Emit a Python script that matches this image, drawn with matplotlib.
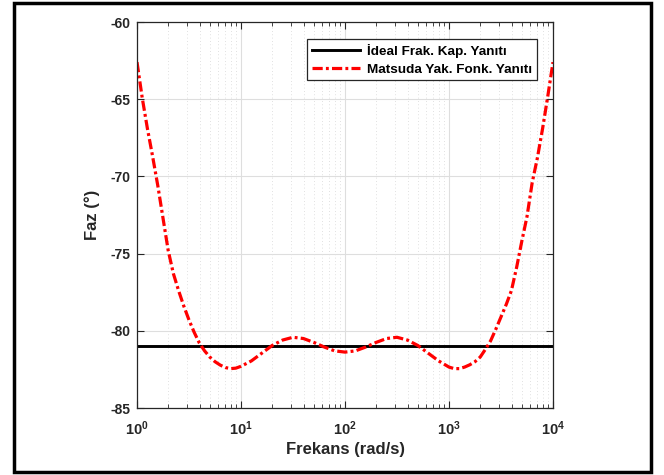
import matplotlib
matplotlib.use("Agg")
import matplotlib.pyplot as plt
import numpy as np
from matplotlib.ticker import FixedLocator, FuncFormatter, LogLocator, NullFormatter
from matplotlib.patches import Rectangle

plt.rcParams['font.family'] = ['Liberation Sans', 'DejaVu Sans']
plt.rcParams['font.weight'] = 'bold'
plt.rcParams['axes.unicode_minus'] = False
plt.rcParams['mathtext.fontset'] = 'custom'
plt.rcParams['mathtext.rm'] = 'Liberation Sans:bold'
plt.rcParams['mathtext.bf'] = 'Liberation Sans:bold'
plt.rcParams['mathtext.it'] = 'Liberation Sans:bold'

log_w = [0.00, 0.05, 0.10, 0.15, 0.20, 0.25, 0.30, 0.35, 0.40, 0.45,
         0.50, 0.55, 0.60, 0.65, 0.70, 0.75, 0.80, 0.85, 0.90, 0.95,
         1.00, 1.10, 1.20, 1.30, 1.40, 1.50, 1.60, 1.70, 1.80, 1.90,
         2.00, 2.10, 2.20, 2.30, 2.40, 2.50, 2.60, 2.70, 2.80, 2.90,
         3.00, 3.05, 3.10, 3.15, 3.20, 3.25, 3.30, 3.35, 3.40, 3.45,
         3.50, 3.55, 3.60, 3.65, 3.70, 3.75, 3.80, 3.85, 3.90, 3.95, 4.00]
matsuda_phase = [-62.6, -64.9, -66.9, -68.7, -70.6, -72.7, -74.8, -76.3, -77.4, -78.4,
                 -79.3, -80.1, -80.8, -81.3, -81.7, -82.0, -82.22, -82.38, -82.45, -82.42,
                 -82.3, -81.95, -81.45, -80.95, -80.6, -80.42, -80.5, -80.75, -81.05, -81.3,
                 -81.38, -81.3, -81.05, -80.75, -80.5, -80.42, -80.6, -80.95, -81.45, -81.95,
                 -82.35, -82.45, -82.45, -82.35, -82.2, -82.0, -81.7, -81.2, -80.65, -79.9,
                 -79.1, -78.3, -77.4, -75.9, -74.2, -72.6, -70.4, -68.8, -66.9, -64.8, -62.6]
ideal_phase = -81.0

w = 10.0 ** np.array(log_w)

fig = plt.figure(figsize=(6.64, 4.75), dpi=100)
ax = fig.add_axes([137/664, 1 - 408/475, (553-137)/664, (408-22)/475])

ax.semilogx(w, np.full(len(w), ideal_phase), color='black', lw=2.1,
            label='İdeal Frak. Kap. Yanıtı')
ax.semilogx(w, matsuda_phase, color='red', lw=2.3, ls='-.',
            dashes=(3.2, 1.0, 0.9, 1.0), label='Matsuda Yak. Fonk. Yanıtı')

ax.set_xlim(1, 1e4)
ax.set_ylim(-85, -60)
ax.set_yticks(np.arange(-85, -59, 5))
ax.xaxis.set_major_locator(FixedLocator([1, 10, 100, 1000, 10000]))
ax.xaxis.set_minor_locator(LogLocator(base=10, subs=np.arange(2, 10)))
ax.xaxis.set_minor_formatter(NullFormatter())
ax.xaxis.set_major_formatter(FuncFormatter(lambda v, p: r'$10^{%d}$' % round(np.log10(v))))

ax.grid(True, which='major', color='#dedede', lw=0.8, ls='-')
ax.grid(True, which='minor', axis='x', color='#d6d6d6', lw=0.6, ls=(0, (1, 3)))
ax.set_axisbelow(True)

ax.tick_params(which='both', direction='in', top=True, right=True, colors='#262626',
               labelsize=10)
ax.tick_params(axis='x', which='major', labelsize=10.5)
ax.tick_params(which='major', length=5)
ax.tick_params(which='minor', length=3)
ax.tick_params(axis='x', which='major', pad=8)
ax.tick_params(axis='y', which='major', pad=5)
for sp in ax.spines.values():
    sp.set_color('#262626')
    sp.set_linewidth(0.9)

ax.set_xlabel('Frekans (rad/s)', fontsize=12, fontweight='bold', color='#262626', labelpad=3)
ax.set_ylabel('Faz (°)', fontsize=12, fontweight='bold', color='#262626', labelpad=7)

leg = ax.legend(loc='upper right', bbox_to_anchor=((537-137)/416, (408-39)/386),
                borderaxespad=0, fontsize=9.7, fancybox=False, framealpha=1,
                edgecolor='#262626', handlelength=3.6, borderpad=0.35,
                labelspacing=0.4, handletextpad=0.5)
leg.get_frame().set_linewidth(0.9)
for t in leg.get_texts():
    t.set_fontweight('bold')

fig.patches.append(Rectangle((14/664, 3/475), (651-14)/664, (473-4)/475, transform=fig.transFigure,
                             fill=False, edgecolor='black', lw=2.5))

fig.savefig('out.png', dpi=100)
